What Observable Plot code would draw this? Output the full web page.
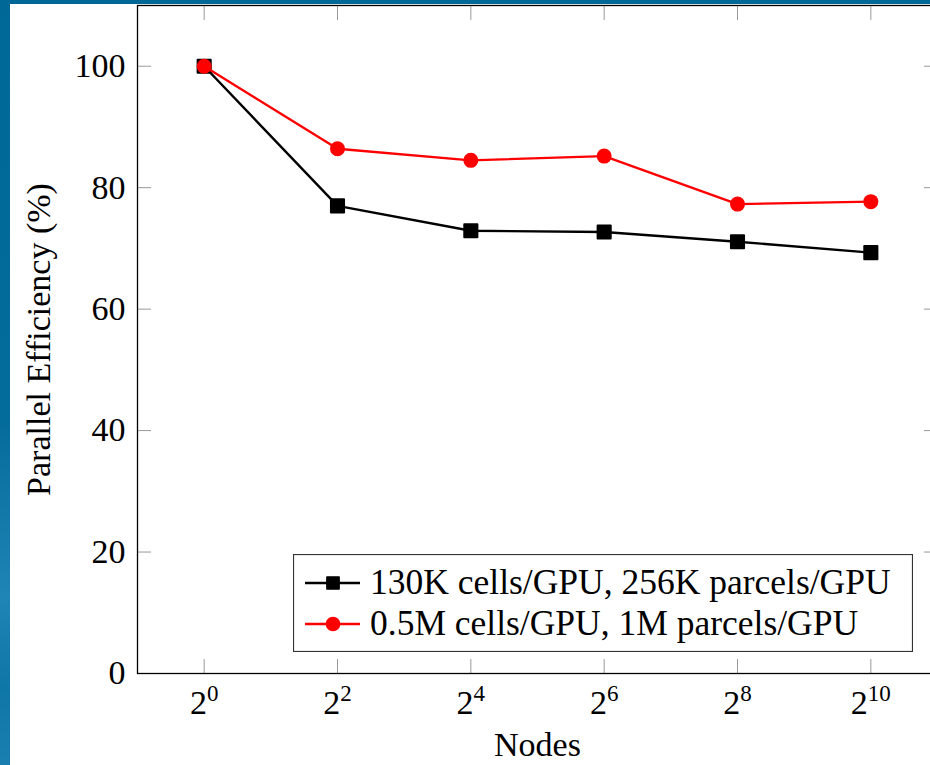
<!DOCTYPE html>
<html>
<head>
<meta charset="utf-8">
<script src="https://cdn.jsdelivr.net/npm/d3@7"></script>
<script src="https://cdn.jsdelivr.net/npm/@observablehq/plot@0.6"></script>
<style>
  html, body { margin: 0; padding: 0; width: 930px; height: 765px; overflow: hidden; }
  body {
    position: relative;
    background: linear-gradient(to bottom, #006896 0%, #046c9a 55%, #1f84b6 78%, #0f76a8 90%, #1a7fb0 100%);
    font-family: "Liberation Serif", serif;
  }
  #paper { position: absolute; left: 10px; top: 4px; width: 920px; height: 761px; background: #fff; }
  #chart { position: absolute; left: 0; top: 0; width: 930px; height: 765px; }
  #legend { position: absolute; left: 293px; top: 554px; }
</style>
</head>
<body>
<div id="paper"></div>
<div id="chart"></div>
<div id="legend"></div>
<script>
// ---- data ----
const nodes = [1, 4, 16, 64, 256, 1024];
const eff130K = [100, 77.0, 72.9, 72.7, 71.1, 69.3];
const eff05M = [100, 86.4, 84.5, 85.2, 77.3, 77.7];
const seriesNames = ["130K cells/GPU, 256K parcels/GPU", "0.5M cells/GPU, 1M parcels/GPU"];
const seriesColors = ["#000000", "#ff0000"];
const seriesSymbols = ["square", "circle"];
const xTicks = [1, 4, 16, 64, 256, 1024];
const yTicks = [0, 20, 40, 60, 80, 100];
const xLabel = "Nodes";
const yLabel = "Parallel Efficiency (%)";

const data130 = nodes.map((n, i) => ({nodes: n, eff: eff130K[i]}));
const data05 = nodes.map((n, i) => ({nodes: n, eff: eff05M[i]}));

const FONT = '"Liberation Serif", "DejaVu Serif", serif';

const chart = Plot.plot({
  width: 930,
  height: 765,
  marginLeft: 137,
  marginTop: 5,
  marginBottom: 92,
  marginRight: -7,
  style: {background: "transparent", fontFamily: FONT, fontSize: "34px", color: "#000", overflow: "visible"},
  x: {type: "log", base: 2, domain: [0.5, 2048]},
  y: {domain: [0, 110]},
  marks: [
    Plot.axisX(xTicks, {anchor: "bottom", tickSize: -14, tickPadding: 30, stroke: "#999", fill: "#000",
      tickFormat: d => "2^" + Math.round(Math.log2(d)), fontSize: 34,
      label: xLabel, labelAnchor: "center", labelOffset: 82, labelArrow: "none"}),
    Plot.axisX(xTicks, {anchor: "top", tickSize: -14, stroke: "#999", tickFormat: () => "", label: null}),
    Plot.axisY(yTicks, {anchor: "left", tickSize: -14, tickPadding: 26, stroke: "#999", fill: "#000",
      tickFormat: d => String(d), fontSize: 34,
      label: yLabel, labelAnchor: "center", labelOffset: 112, labelArrow: "none"}),
    Plot.axisY(yTicks, {anchor: "right", tickSize: -14, stroke: "#999", tickFormat: () => "", label: null}),
    Plot.frame({stroke: "#000", strokeWidth: 1.3}),
    Plot.line(data130, {x: "nodes", y: "eff", stroke: seriesColors[0], strokeWidth: 2.4}),
    Plot.dot(data130, {x: "nodes", y: "eff", symbol: seriesSymbols[0], r: 7.4, fill: seriesColors[0],
      stroke: seriesColors[0], strokeWidth: 2, strokeLinejoin: "round"}),
    Plot.line(data05, {x: "nodes", y: "eff", stroke: seriesColors[1], strokeWidth: 2.4}),
    Plot.dot(data05, {x: "nodes", y: "eff", symbol: seriesSymbols[1], r: 7.5, fill: seriesColors[1], stroke: "none"})
  ]
});

// superscript exponents on x tick labels
d3.select(chart).selectAll('g[aria-label="x-axis tick label"] text').each(function () {
  const m = this.textContent.match(/^2\^(\d+)$/);
  if (!m) return;
  const el = d3.select(this);
  el.text(null);
  el.append("tspan").text("2");
  el.append("tspan").attr("dy", "-13").attr("font-size", "23px").text(m[1]);
});

document.getElementById("chart").appendChild(chart);

// ---- legend ----
const lg = d3.select("#legend").append("svg").attr("width", 620).attr("height", 98)
  .style("font-family", FONT).style("font-size", "35.5px");
lg.append("rect").attr("x", 0.5).attr("y", 0.5).attr("width", 619).attr("height", 97)
  .attr("fill", "#fff").attr("stroke", "#333").attr("stroke-width", 1.2);
const rowY = [29, 70];
seriesNames.forEach((name, i) => {
  const g = lg.append("g").attr("transform", `translate(0,${rowY[i]})`);
  g.append("line").attr("x1", 12).attr("x2", 67).attr("y1", 0).attr("y2", 0)
    .attr("stroke", seriesColors[i]).attr("stroke-width", 2.4);
  g.append("path").attr("transform", "translate(40,0)")
    .attr("d", d3.symbol(seriesSymbols[i] === "square" ? d3.symbolSquare : d3.symbolCircle, seriesSymbols[i] === "square" ? 150 : 170)())
    .attr("fill", seriesColors[i]).attr("stroke", seriesSymbols[i] === "square" ? seriesColors[i] : "none")
    .attr("stroke-width", 1.5).attr("stroke-linejoin", "round");
  g.append("text").attr("x", 77).attr("y", 11).attr("fill", "#000").text(name);
});
</script>
</body>
</html>
